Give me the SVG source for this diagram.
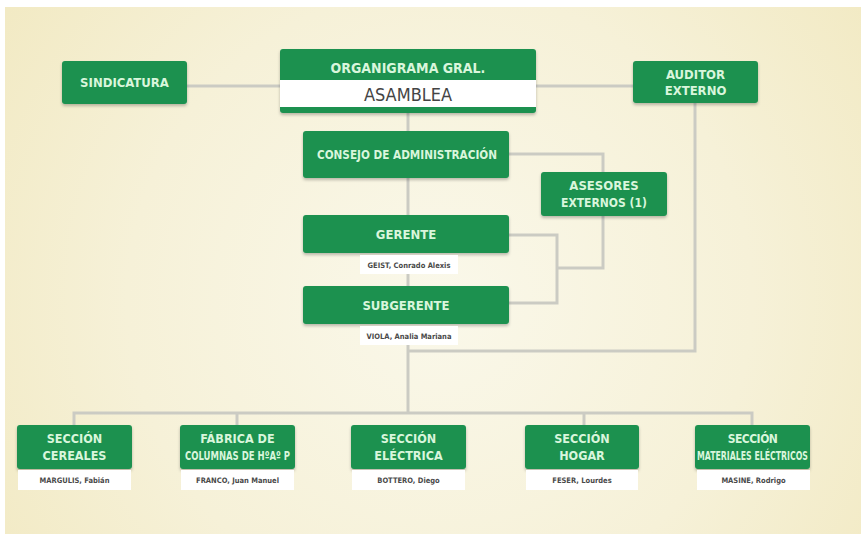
<svg xmlns="http://www.w3.org/2000/svg" width="861" height="534" viewBox="0 0 861 534">
<defs>
<radialGradient id="bg" cx="440" cy="300" r="520" gradientUnits="userSpaceOnUse">
<stop offset="0" stop-color="#faf8ea"/>
<stop offset="0.6" stop-color="#f6f1d8"/>
<stop offset="1" stop-color="#f2eac4"/>
</radialGradient>
<filter id="sh" x="-10%" y="-20%" width="120%" height="150%">
<feDropShadow dx="0" dy="2" stdDeviation="1.5" flood-color="#000" flood-opacity="0.25"/>
</filter>
<style>
.box{fill:#1b9150;filter:url(#sh)}
.lbl{fill:#ffffff}
.t{font-family:"DejaVu Sans Condensed","DejaVu Sans",sans-serif;font-stretch:condensed;font-weight:bold;fill:#d9f6dc;text-anchor:middle}
.n{font-family:"DejaVu Sans Condensed","DejaVu Sans",sans-serif;font-stretch:condensed;font-weight:bold;fill:#4a4a4a;text-anchor:middle;font-size:7.5px}
.ln{fill:none;stroke:#cbcbc3;stroke-width:3}
</style>
</defs>
<rect x="0" y="0" width="861" height="534" fill="#ffffff"/>
<rect x="5" y="7" width="856" height="527" fill="url(#bg)"/>

<g id="connectors">
<path class="ln" d="M187 86H280M536 86H633"/>
<path class="ln" d="M408 113V131M408 178V215M408 274V286M408 345V413"/>
<path class="ln" d="M509 154H603V268H557M509 235H557V303H509"/>
<path class="ln" d="M695 103V351H408"/>
<path class="ln" d="M74 425V413H752V425M237 413V425M584 413V425"/>
</g>

<g id="sindicatura">
<rect class="box" x="62" y="61" width="125" height="43" rx="3"/>
<text class="t" x="124.5" y="87" font-size="13">SINDICATURA</text>
</g>

<g id="asamblea">
<rect class="box" x="280" y="49" width="256" height="64" rx="3"/>
<rect x="280" y="80" width="256" height="27" fill="#ffffff"/>
<text class="t" x="408" y="73" font-size="14">ORGANIGRAMA GRAL.</text>
<text x="408" y="100.5" font-family="DejaVu Sans Condensed,DejaVu Sans,sans-serif" font-stretch="condensed" font-size="18" fill="#444" text-anchor="middle">ASAMBLEA</text>
</g>

<g id="auditor">
<rect class="box" x="633" y="61" width="125" height="42" rx="3"/>
<text class="t" x="695.5" y="79" font-size="13">AUDITOR</text>
<text class="t" x="695.5" y="95" font-size="13">EXTERNO</text>
</g>

<g id="consejo">
<rect class="box" x="303" y="131" width="206" height="47" rx="3"/>
<text class="t" x="407" y="159" font-size="13" textLength="180" lengthAdjust="spacingAndGlyphs">CONSEJO DE ADMINISTRACIÓN</text>
</g>

<g id="asesores">
<rect class="box" x="541" y="172" width="126" height="44" rx="3"/>
<text class="t" x="604" y="190" font-size="13">ASESORES</text>
<text class="t" x="604" y="207" font-size="13" textLength="86" lengthAdjust="spacingAndGlyphs">EXTERNOS (1)</text>
</g>

<g id="gerente">
<rect class="box" x="303" y="215" width="206" height="38" rx="3"/>
<text class="t" x="406" y="238.5" font-size="13">GERENTE</text>
<rect class="lbl" x="360" y="255" width="98" height="19"/>
<text class="n" x="409" y="267.5">GEIST, Conrado Alexis</text>
</g>

<g id="subgerente">
<rect class="box" x="303" y="286" width="206" height="38" rx="3"/>
<text class="t" x="406" y="309.5" font-size="13">SUBGERENTE</text>
<rect class="lbl" x="360" y="326" width="98" height="19"/>
<text class="n" x="409" y="338.5">VIOLA, Analia Mariana</text>
</g>

<g id="cereales">
<rect class="box" x="17" y="425" width="115" height="44" rx="3"/>
<text class="t" x="74.5" y="443" font-size="12.5">SECCIÓN</text>
<text class="t" x="74.5" y="460" font-size="12.5">CEREALES</text>
<rect class="lbl" x="18" y="470" width="113" height="20"/>
<text class="n" x="74.5" y="483">MARGULIS, Fabián</text>
</g>

<g id="fabrica">
<rect class="box" x="180" y="425" width="115" height="44" rx="3"/>
<text class="t" x="237.5" y="443" font-size="12.5">FÁBRICA DE</text>
<text class="t" x="237.5" y="460" font-size="12.5" textLength="105" lengthAdjust="spacingAndGlyphs">COLUMNAS DE HºAº P</text>
<rect class="lbl" x="181" y="470" width="113" height="20"/>
<text class="n" x="237.5" y="483">FRANCO, Juan Manuel</text>
</g>

<g id="electrica">
<rect class="box" x="351" y="425" width="115" height="44" rx="3"/>
<text class="t" x="408.5" y="443" font-size="12.5">SECCIÓN</text>
<text class="t" x="408.5" y="460" font-size="12.5">ELÉCTRICA</text>
<rect class="lbl" x="352" y="470" width="113" height="20"/>
<text class="n" x="408.5" y="483">BOTTERO, Diego</text>
</g>

<g id="hogar">
<rect class="box" x="525" y="425" width="114" height="44" rx="3"/>
<text class="t" x="582" y="443" font-size="12.5">SECCIÓN</text>
<text class="t" x="582" y="460" font-size="12.5">HOGAR</text>
<rect class="lbl" x="526" y="470" width="112" height="20"/>
<text class="n" x="582" y="483">FESER, Lourdes</text>
</g>

<g id="materiales">
<rect class="box" x="695" y="425" width="115" height="44" rx="3"/>
<text class="t" x="752.5" y="443" font-size="12" letter-spacing="-0.5">SECCIÓN</text>
<text class="t" x="752.5" y="460" font-size="12" textLength="111" lengthAdjust="spacingAndGlyphs">MATERIALES ELÉCTRICOS</text>
<rect class="lbl" x="697" y="470" width="113" height="20"/>
<text class="n" x="753.5" y="483">MASINE, Rodrigo</text>
</g>
</svg>
